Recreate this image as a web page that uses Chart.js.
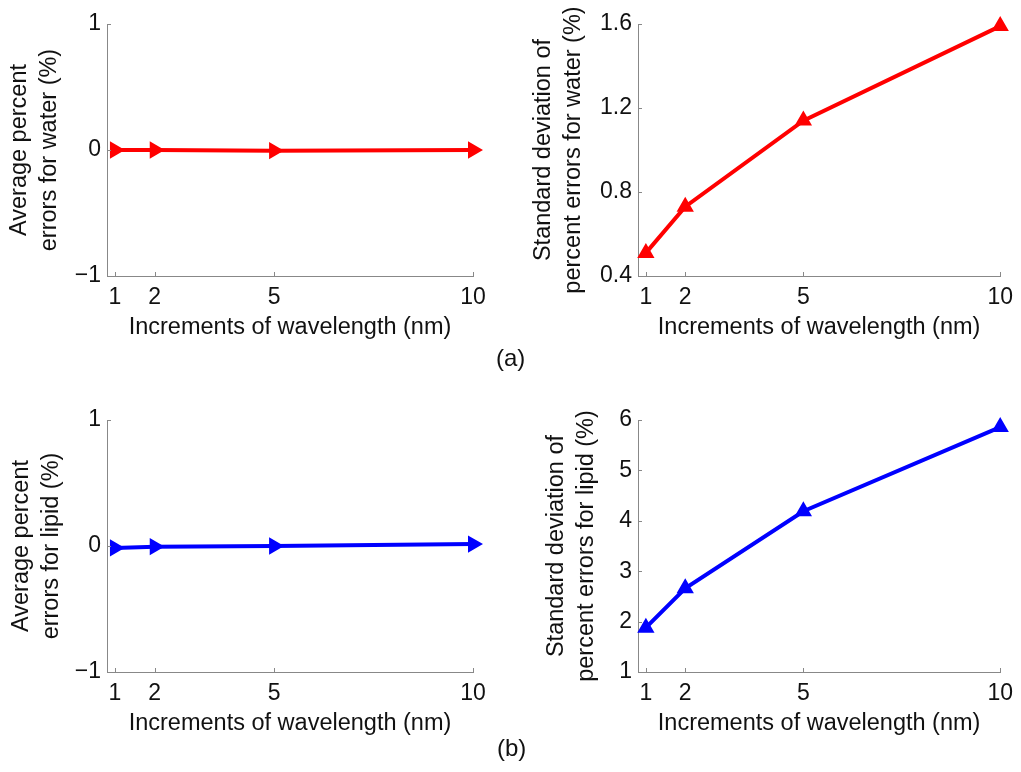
<!DOCTYPE html>
<html>
<head>
<meta charset="utf-8">
<script src="https://cdn.jsdelivr.net/npm/chart.js@4/dist/chart.umd.min.js"></script>
<style>
  body { margin: 0; background: #fff; }
  #wrap { position: relative; width: 1021px; height: 772px; font-family: "Liberation Sans", Arial, sans-serif; }
  canvas { position: absolute; }
  .tag { position: absolute; font-size: 24px; color: #111; }
</style>
</head>
<body>
<div id="wrap">
  <canvas id="waterMean" width="510" height="345" style="left:0;top:0"></canvas>
  <canvas id="waterStd" width="511" height="345" style="left:510px;top:0"></canvas>
  <canvas id="lipidMean" width="510" height="345" style="left:0;top:396px"></canvas>
  <canvas id="lipidStd" width="511" height="345" style="left:510px;top:396px"></canvas>
  <div class="tag" style="left:496px;top:344px">(a)</div>
  <div class="tag" style="left:497px;top:734px">(b)</div>
</div>
<script>
// data
const wavelengthSteps = [1, 2, 5, 10];
const waterMeanErr = [0, 0, -0.005, 0];
const waterStdErr = [0.51, 0.73, 1.14, 1.59];
const lipidMeanErr = [-0.015, -0.005, 0, 0.015];
const lipidStdErr = [1.88, 2.66, 4.19, 5.86];

const xTicks = [1, 2, 5, 10];
const meanTicks = [-1, 0, 1];
const waterStdTicks = [0.4, 0.8, 1.2, 1.6];
const lipidStdTicks = [1, 2, 3, 4, 5, 6];

const xTitle = 'Increments of wavelength (nm)';
const fontFamily = '"Liberation Sans", Arial, sans-serif';
const axisGray = '#888';

// small inward tick marks like the original figure
const innerTicks = {
  id: 'innerTicks',
  afterDraw(chart) {
    const c = chart.ctx, a = chart.chartArea;
    c.save();
    c.strokeStyle = axisGray;
    c.lineWidth = 1;
    chart.scales.x.ticks.forEach(t => {
      const px = Math.round(chart.scales.x.getPixelForValue(t.value)) + 0.5;
      c.beginPath(); c.moveTo(px, a.bottom); c.lineTo(px, a.bottom - 4); c.stroke();
    });
    chart.scales.y.ticks.forEach(t => {
      const py = Math.round(chart.scales.y.getPixelForValue(t.value)) + 0.5;
      c.beginPath(); c.moveTo(a.left, py); c.lineTo(a.left + 4, py); c.stroke();
    });
    c.restore();
  }
};

function makeChart(id, values, color, yTicks, yTitle, opts) {
  const ctx = document.getElementById(id).getContext('2d');
  return new Chart(ctx, {
    type: 'line',
    data: {
      datasets: [{
        data: wavelengthSteps.map((x, i) => ({x: x, y: values[i]})),
        borderColor: color,
        backgroundColor: color,
        borderWidth: 4,
        pointStyle: 'triangle',
        pointRotation: opts.rotation,
        pointRadius: 6,
        pointHoverRadius: 6,
        clip: false
      }]
    },
    options: {
      responsive: false,
      animation: false,
      events: [],
      layout: { padding: { top: 24, right: opts.rightPad, left: 0, bottom: 0 } },
      plugins: { legend: { display: false }, tooltip: { enabled: false } },
      scales: {
        x: {
          type: 'linear',
          min: 0.8,
          max: 10,
          afterBuildTicks: s => { s.ticks = xTicks.map(v => ({value: v})); },
          afterFit: s => { s.height = 69; },
          grid: { display: false, drawTicks: false },
          border: { color: axisGray, width: 1 },
          ticks: { color: '#111', font: { size: 23, family: fontFamily }, padding: 8, maxRotation: 0, autoSkip: false },
          title: { display: true, text: xTitle, color: '#111', font: { size: 23.5, family: fontFamily, lineHeight: 1.2 }, padding: { top: 0, bottom: 3 } }
        },
        y: {
          min: yTicks[0],
          max: yTicks[yTicks.length - 1],
          afterBuildTicks: s => { s.ticks = yTicks.map(v => ({value: v})); },
          afterFit: s => { s.width = opts.yWidth; },
          grid: { display: false, drawTicks: false },
          border: { color: axisGray, width: 1 },
          ticks: {
            color: '#111',
            font: { size: 23, family: fontFamily },
            padding: 6,
            callback: v => (opts.decimals ? v.toFixed(opts.decimals) : String(v)).replace('-', '\u2212')
          },
          title: { display: true, text: yTitle, color: '#111', font: { size: 23.5, family: fontFamily, lineHeight: 1.28 }, padding: { top: opts.titlePad, bottom: 0 } }
        }
      }
    },
    plugins: [innerTicks]
  });
}

makeChart('waterMean', waterMeanErr, '#ff0000', meanTicks,
  ['Average percent', 'errors for water (%)'],
  { rotation: 90, rightPad: 37, yWidth: 107, titlePad: 4, decimals: 0 });
makeChart('waterStd', waterStdErr, '#ff0000', waterStdTicks,
  ['Standard deviation of', 'percent errors for water (%)'],
  { rotation: 0, rightPad: 15, yWidth: 128, titlePad: 18, decimals: 1 });
makeChart('lipidMean', lipidMeanErr, '#0000ff', meanTicks,
  ['Average percent', 'errors for lipid (%)'],
  { rotation: 90, rightPad: 37, yWidth: 107, titlePad: 6, decimals: 0 });
makeChart('lipidStd', lipidStdErr, '#0000ff', lipidStdTicks,
  ['Standard deviation of', 'percent errors for lipid (%)'],
  { rotation: 0, rightPad: 15, yWidth: 128, titlePad: 31, decimals: 0 });
</script>
</body>
</html>
